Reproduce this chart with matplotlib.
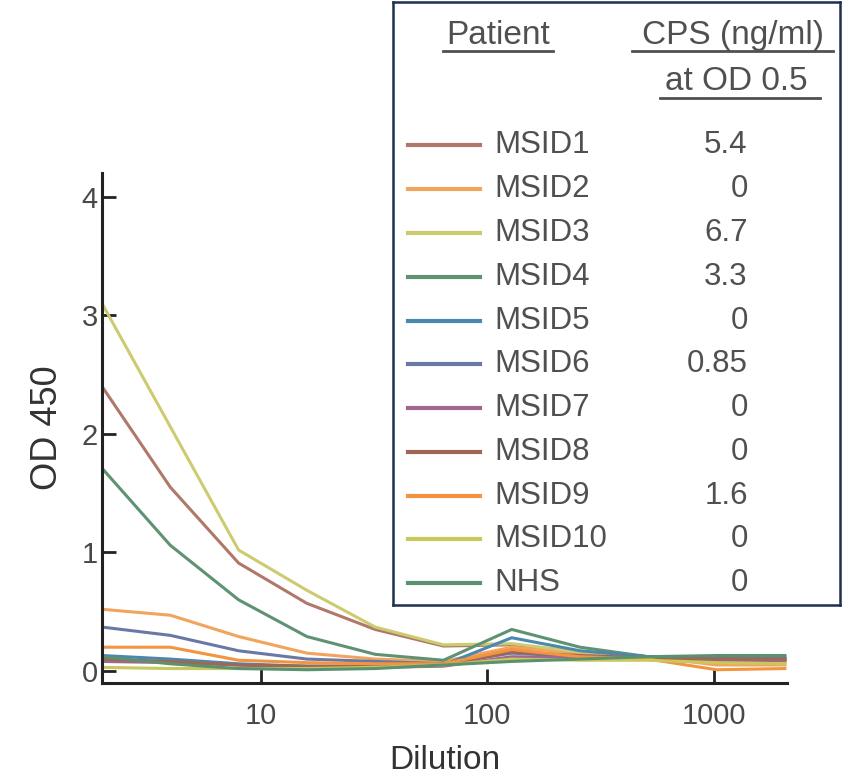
import matplotlib
matplotlib.use("Agg")
import matplotlib.pyplot as plt
from matplotlib.lines import Line2D

plt.rcParams["font.family"] = ["Liberation Sans", "DejaVu Sans"]

# --- Data ---
dilution = [2, 4, 8, 16, 32, 64, 128, 256, 512, 1024, 2048]

patients = ["MSID1", "MSID2", "MSID3", "MSID4", "MSID5", "MSID6",
            "MSID7", "MSID8", "MSID9", "MSID10", "NHS"]
cps_values = ["5.4", "0", "6.7", "3.3", "0", "0.85", "0", "0", "1.6", "0", "0"]

msid1 = [2.40, 1.55, 0.91, 0.57, 0.35, 0.21, 0.22, 0.16, 0.12, 0.10, 0.08]
msid2 = [0.52, 0.47, 0.29, 0.15, 0.10, 0.08, 0.20, 0.15, 0.12, 0.05, 0.05]
msid3 = [3.10, 2.06, 1.02, 0.68, 0.37, 0.22, 0.23, 0.16, 0.12, 0.08, 0.06]
msid4 = [1.71, 1.06, 0.60, 0.29, 0.14, 0.09, 0.35, 0.20, 0.12, 0.12, 0.12]
msid5 = [0.13, 0.10, 0.06, 0.04, 0.04, 0.05, 0.28, 0.17, 0.12, 0.10, 0.10]
msid6 = [0.37, 0.30, 0.17, 0.10, 0.08, 0.06, 0.15, 0.12, 0.11, 0.10, 0.10]
msid7 = [0.08, 0.07, 0.05, 0.03, 0.03, 0.04, 0.12, 0.11, 0.10, 0.09, 0.09]
msid8 = [0.10, 0.08, 0.05, 0.04, 0.04, 0.05, 0.16, 0.13, 0.11, 0.10, 0.10]
msid9 = [0.20, 0.20, 0.09, 0.07, 0.06, 0.06, 0.18, 0.12, 0.10, 0.01, 0.02]
msid10 = [0.03, 0.02, 0.02, 0.02, 0.03, 0.05, 0.10, 0.09, 0.09, 0.07, 0.06]
nhs = [0.12, 0.06, 0.02, 0.01, 0.02, 0.05, 0.08, 0.10, 0.12, 0.13, 0.13]

series = [msid1, msid2, msid3, msid4, msid5, msid6, msid7, msid8, msid9, msid10, nhs]
colors = ["#b07868", "#f0a45c", "#cccb70", "#5e9272", "#4a88b0", "#6a78a6",
          "#a06890", "#a06656", "#f29440", "#c8c85c", "#5a9270"]

TEXT = "#505050"

# --- Figure ---
fig = plt.figure(figsize=(8.43, 7.83), dpi=100)
ax = fig.add_axes([0.121, 0.128, 0.813, 0.651])

for vals, col in zip(series, colors):
    ax.plot(dilution, vals, color=col, linewidth=2.2, solid_joinstyle="miter")

ax.set_xscale("log")
ax.set_xlim(2, 2100)
ax.set_ylim(-0.1, 4.2)
ax.set_xticks([10, 100, 1000])
ax.set_xticklabels(["10", "100", "1000"])
ax.minorticks_off()
ax.set_yticks([0, 1, 2, 3, 4])
for side in ("top", "right"):
    ax.spines[side].set_visible(False)
for side in ("left", "bottom"):
    ax.spines[side].set_linewidth(2.2)
    ax.spines[side].set_color("#222222")
ax.tick_params(direction="in", length=10, width=2, color="#222222",
               labelsize=21, labelcolor="#484848")
ax.tick_params(axis="x", pad=14)
ax.tick_params(axis="y", pad=3)
ax.set_xlabel("Dilution", fontsize=24, color="#333333", labelpad=11)
ax.set_ylabel("OD 450", fontsize=26, color="#333333", labelpad=12)

# --- Legend panel (custom table) ---
lg = fig.add_axes([0.466, 0.227, 0.530, 0.770], zorder=5)
lg.set_xlim(0, 447)
lg.set_ylim(603, 0)
lg.set_xticks([])
lg.set_yticks([])
lg.set_facecolor("white")
for sp in lg.spines.values():
    sp.set_edgecolor("#1f2f4f")
    sp.set_linewidth(1.8)

hdr = dict(fontsize=24, color=TEXT, va="center", ha="center")
lg.text(105, 33, "Patient", **hdr)
lg.text(340, 33, "CPS (ng/ml)", **hdr)
lg.text(344, 79, "at OD 0.5", **hdr)
lg.plot([50, 160], [49, 49], color=TEXT, linewidth=2)
lg.plot([239, 440], [49, 49], color=TEXT, linewidth=2)
lg.plot([267, 427], [96, 96], color=TEXT, linewidth=2)

row0, step = 143, 43.8
for i, (name, val, col) in enumerate(zip(patients, cps_values, colors)):
    y = row0 + i * step
    lg.add_line(Line2D([15, 87], [y, y], color=col, linewidth=3))
    lg.text(102, y, name, fontsize=22.5, color=TEXT, va="center", ha="left")
    lg.text(355, y, val, fontsize=22.5, color=TEXT, va="center", ha="right")

fig.savefig("out.png", dpi=100)
